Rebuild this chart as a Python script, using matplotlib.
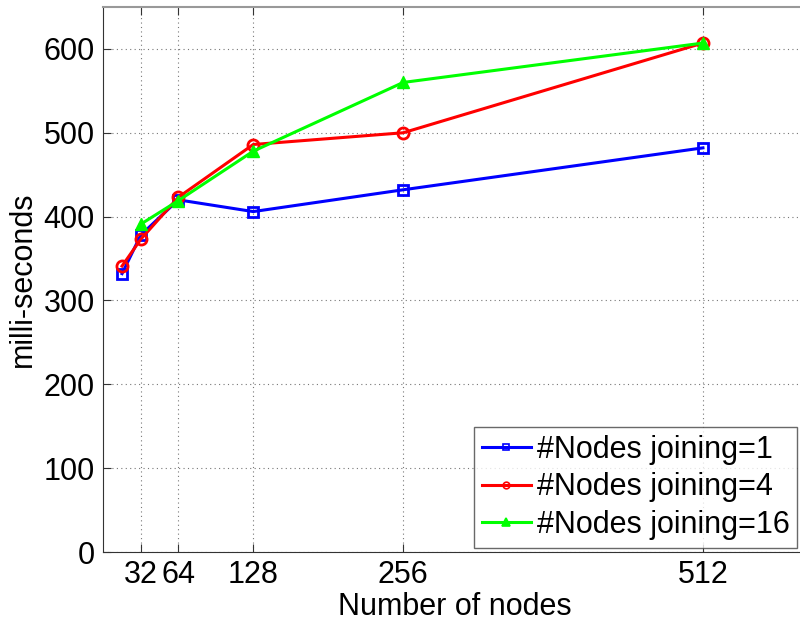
import matplotlib
matplotlib.use("Agg")
import matplotlib.pyplot as plt

plt.rcParams['font.family'] = ['Liberation Sans', 'DejaVu Sans']

x_ticks = [32, 64, 128, 256, 512]
x_tick_labels = ['32', '64', '128', '256', '512']
y_ticks = [0, 100, 200, 300, 400, 500, 600]

x_join1 = [16, 32, 64, 128, 256, 512]
y_join1 = [332, 378, 420, 406, 432, 482]
x_join4 = [16, 32, 64, 128, 256, 512]
y_join4 = [341, 373, 423, 486, 500, 607]
x_join16 = [32, 64, 128, 256, 512]
y_join16 = [391, 419, 478, 560, 607]

labels = ['#Nodes joining=1', '#Nodes joining=4', '#Nodes joining=16']

fig = plt.figure(figsize=(8.0, 6.22), dpi=100)
ax = fig.add_axes([103.3 / 800, 1 - 552 / 622, 702.7 / 800, 545 / 622])

fs = 22
ax.plot(x_join1, y_join1, color='#0000ff', lw=2.2, marker='s', ms=7,
        mfc='none', mew=2, label=labels[0], zorder=3)
ax.plot(x_join4, y_join4, color='#ff0000', lw=2.2, marker='o', ms=8,
        mfc='none', mew=2, label=labels[1], zorder=4)
ax.plot(x_join16, y_join16, color='#00ff00', lw=2.2, marker='^', ms=9,
        mew=1, label=labels[2], zorder=5)

ax.set_xlim(0, 600)
ax.set_ylim(0, 650)
ax.set_xticks(x_ticks)
ax.set_xticklabels(x_tick_labels)
ax.set_yticks(y_ticks)
ax.tick_params(axis='both', direction='in', labelsize=fs, length=6,
               top=True, right=False, color='#333333', pad=6)
ax.grid(True, linestyle=(0, (1, 3)), color='#777777', lw=0.8)
for side in ['left', 'bottom']:
    ax.spines[side].set_color('#333333')
ax.spines['right'].set_visible(False)
ax.spines['top'].set_color('#999999')
ax.spines['top'].set_linewidth(1.5)

ax.set_xlabel('Number of nodes', fontsize=fs, labelpad=1)
ax.set_ylabel('milli-seconds', fontsize=fs, labelpad=4)

leg = ax.legend(loc='upper left', bbox_to_anchor=(474 / 800, 1 - 427 / 622),
                bbox_transform=fig.transFigure, borderaxespad=0,
                fontsize=fs, frameon=True, fancybox=False,
                handlelength=1.6, handletextpad=0.2, labelspacing=0.25,
                borderpad=0.25, markerscale=0.6)
leg.get_frame().set_edgecolor('#444444')
leg.get_frame().set_linewidth(1.0)
for i, h in enumerate(leg.legend_handles):
    h.set_markeredgewidth(1.2)
    if i < 2:
        h.set_markerfacecolor('none')

fig.savefig('out.png', dpi=100)
